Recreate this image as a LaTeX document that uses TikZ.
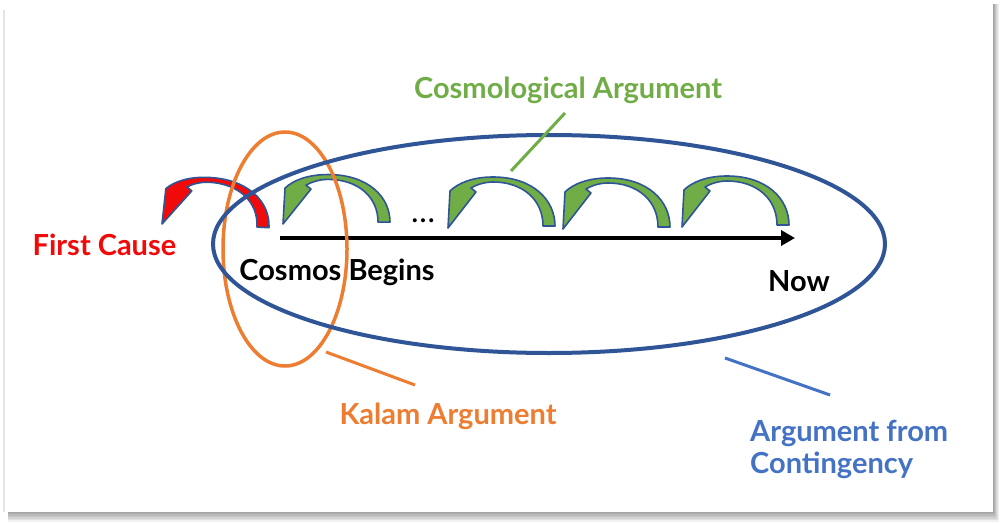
\documentclass[tikz,border=0pt]{standalone}
\usepackage{fontspec}
\setmainfont{Lato}
\usetikzlibrary{arrows.meta,shapes.geometric}
\definecolor{cgreen}{HTML}{70AD47}
\definecolor{corange}{HTML}{ED7D31}
\definecolor{cdblue}{HTML}{2F5597}
\definecolor{cblue}{HTML}{4472C4}
\definecolor{cred}{HTML}{F00A0A}
\tikzset{
  lbl/.style={font=\fontsize{29}{34}\selectfont\bfseries, inner sep=0pt, anchor=base},
  leader/.style={line width=3pt},
  curvarrow/.pic={
    \path[pic actions] (0,0) -- (2,-37)
      .. controls (10,-45) and (25,-51) .. (45,-51)
      .. controls (85,-51) and (107,-28) .. (107,-2)
      -- (95,-2)
      .. controls (95,-28) and (75,-46) .. (45,-46)
      .. controls (36,-46) and (28,-43) .. (23,-40)
      -- (28,-36) -- cycle;
  },
  garrow/.style={fill=cgreen, draw=cdblue, line width=1.6pt, line join=round},
  rarrow/.style={fill=cred, draw=cdblue, line width=1.6pt, line join=round}
}
\begin{document}
\begin{tikzpicture}[x=1pt,y=-1pt]
\useasboundingbox (0,0) rectangle (1000,524);
% card with shadow
\fill[white] (0,0) rectangle (1000,524);
\foreach \k in {1,...,7} \fill[black,opacity=0.06] (8,4) rectangle (993+0.8*\k,511+1.5*\k);
\fill[white] (5,0) rectangle (993,512);
\draw[black!10, line width=2.5pt] (4,10) -- (4,512);

% curved arrows
\pic[rarrow, rotate=-3, yscale=0.96] at (162,224) {curvarrow};
\pic[garrow, yscale=0.97] at (283,224) {curvarrow};
\pic[garrow] at (448,228) {curvarrow};
\pic[garrow] at (563,229) {curvarrow};
\pic[garrow] at (682,227) {curvarrow};

% timeline
\coordinate (tstart) at (280,238);
\coordinate (tend) at (795,238);
\draw[line width=4pt, -{Triangle[length=14pt,width=15pt]}] (tstart) -- (tend);
\node[font=\fontsize{32}{36}\selectfont, inner sep=0pt, anchor=base] (dots) at (423,222) {…};

% ellipses
\node[draw=corange, line width=3.5pt, ellipse, minimum width=124pt, minimum height=234pt, inner sep=0pt] (kalam) at (285,249) {};
\draw[cdblue, line width=4pt] (549,244) ellipse [x radius=336, y radius=109];
\coordinate (contc) at (549,244);

% labels
\node[lbl, text=cred] (first) at (104.5,255) {First Cause};
\node[lbl, text=black] (begins) at (337,280) {Cosmos Begins};
\node[lbl, text=black] (now) at (799,291) {Now};
\node[lbl, text=cgreen] (cosmo) at (568,99) {Cosmological Argument};
\node[lbl, text=corange] (kalamt) at (448,424) {Kalam Argument};
\node[lbl, text=cblue, anchor=base west] (contt) at (750,441.7) {Argument from};
\node[lbl, text=cblue, anchor=base west] (contt2) at (750,473.3) {Contingency};

% leader lines
\coordinate (g1) at (565,113);
\coordinate (g2) at (511,171);
\draw[leader, cgreen] (g1) -- (g2);
\coordinate (o1) at (326,352);
\coordinate (o2) at (415,385);
\draw[leader, corange] (o1) -- (o2);
\coordinate (b1) at (725,358);
\coordinate (b2) at (830,395);
\draw[leader, cblue] (b1) -- (b2);
\end{tikzpicture}
\end{document}
